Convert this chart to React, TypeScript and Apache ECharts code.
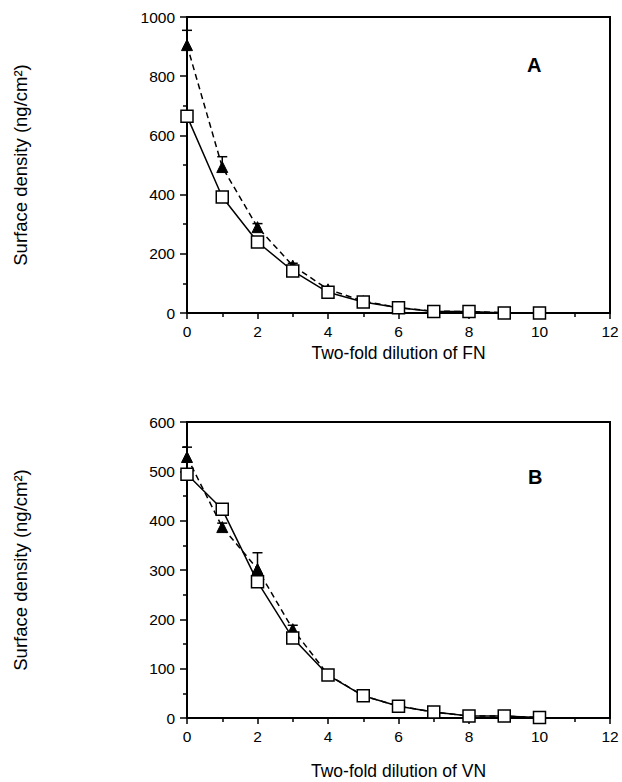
import React, { useEffect, useRef } from "react";
import * as echarts from "echarts";

const dilutions = [0, 1, 2, 3, 4, 5, 6, 7, 8, 9, 10];
// Panel A (FN)
const fnTriangle = [905, 493, 290, 160, 80, 40, 18, 6, 5, 1, 1];
const fnTriangleErr = [50, 35, 12, 8, 6, 4, 3, 2, 2, 1, 1];
const fnSquare = [665, 392, 240, 142, 70, 37, 18, 5, 5, 0, 0];
// Panel B (VN)
const vnTriangle = [529, 387, 302, 180, 88, 45, 24, 12, 4, 4, 1];
const vnTriangleErr = [20, 8, 33, 8, 5, 4, 3, 2, 2, 1, 1];
const vnSquare = [494, 423, 276, 162, 87, 45, 24, 12, 4, 4, 1];

const xTicks = { min: 0, max: 12, interval: 2 };
const panelALabels = { x: "Two-fold dilution of FN", y: "Surface density (ng/cm²)", tag: "A" };
const panelBLabels = { x: "Two-fold dilution of VN", y: "Surface density (ng/cm²)", tag: "B" };

const FONT = "'Liberation Sans', Arial, sans-serif";
const TICK_SIZE = 15.5;
const XTITLE_SIZE = 17.5;
const YTITLE_SIZE = 18.5;

function pairs(ys: number[]) {
  return dilutions.map((x, i) => [x, ys[i]]);
}

function errData(ys: number[], errs: number[]) {
  return dilutions.map((x, i) => [x, ys[i], ys[i] + errs[i]]);
}

const errRender = (params: any, api: any) => {
  const x = api.value(0);
  const lo = api.coord([x, api.value(1)]);
  const hi = api.coord([x, api.value(2)]);
  const half = 5;
  return {
    type: "group",
    children: [
      { type: "line", shape: { x1: lo[0], y1: lo[1], x2: hi[0], y2: hi[1] }, style: { stroke: "#000", lineWidth: 1.5 } },
      { type: "line", shape: { x1: hi[0] - half, y1: hi[1], x2: hi[0] + half, y2: hi[1] }, style: { stroke: "#000", lineWidth: 1.5 } },
    ],
  };
};

function xAxis(gridIndex: number, name: string, nameGap: number) {
  return {
    type: "value",
    gridIndex,
    min: xTicks.min,
    max: xTicks.max,
    interval: xTicks.interval,
    name,
    nameLocation: "middle",
    nameGap,
    nameTextStyle: { fontFamily: FONT, fontSize: XTITLE_SIZE, color: "#000" },
    axisLine: { show: true, onZero: false, lineStyle: { color: "#000", width: 2 } },
    axisTick: { show: true, length: 6, inside: false, lineStyle: { color: "#000", width: 1.5 } },
    minorTick: { show: true, splitNumber: 2, length: 4, lineStyle: { color: "#000", width: 1.5 } },
    axisLabel: { fontFamily: FONT, fontSize: TICK_SIZE, color: "#000", margin: 10 },
    splitLine: { show: false },
  };
}

function yAxis(gridIndex: number, max: number, interval: number, name: string) {
  return {
    type: "value",
    gridIndex,
    min: 0,
    max,
    interval,
    name,
    nameLocation: "middle",
    nameGap: 157,
    nameTextStyle: { fontFamily: FONT, fontSize: YTITLE_SIZE, color: "#000" },
    axisLine: { show: true, onZero: false, lineStyle: { color: "#000", width: 2 } },
    axisTick: { show: true, length: 7, inside: false, lineStyle: { color: "#000", width: 1.5 } },
    minorTick: { show: true, splitNumber: 2, length: 4, lineStyle: { color: "#000", width: 1.5 } },
    axisLabel: { fontFamily: FONT, fontSize: TICK_SIZE, color: "#000", margin: 12, formatter: (v: number) => String(v) },
    splitLine: { show: false },
  };
}

function seriesFor(idx: number, tri: number[], triErr: number[], sq: number[]) {
  return [
    {
      type: "custom",
      xAxisIndex: idx,
      yAxisIndex: idx,
      renderItem: errRender,
      data: errData(tri, triErr),
      z: 1,
    },
    {
      type: "line",
      xAxisIndex: idx,
      yAxisIndex: idx,
      data: pairs(tri),
      symbol: "triangle",
      symbolSize: [11, 11],
      itemStyle: { color: "#000", borderColor: "#000" },
      lineStyle: { color: "#000", width: 1.5, type: [6, 4] },
      z: 2,
    },
    {
      type: "line",
      xAxisIndex: idx,
      yAxisIndex: idx,
      data: pairs(sq),
      symbol: "rect",
      symbolSize: 12,
      itemStyle: { color: "#fff", borderColor: "#000", borderWidth: 1.5 },
      lineStyle: { color: "#000", width: 1.5 },
      z: 3,
    },
  ];
}

export default function App() {
  const ref = useRef<HTMLDivElement>(null);
  useEffect(() => {
    if (!ref.current) return;
    const chart = echarts.init(ref.current, undefined, { renderer: "svg" });
    chart.setOption({
      animation: false,
      backgroundColor: "#fff",
      grid: [
        { left: 187, top: 17, width: 423, height: 296, show: true, borderColor: "#000", borderWidth: 2, backgroundColor: "transparent" },
        { left: 187, top: 422, width: 423, height: 296, show: true, borderColor: "#000", borderWidth: 2, backgroundColor: "transparent" },
      ],
      xAxis: [xAxis(0, panelALabels.x, 31), xAxis(1, panelBLabels.x, 44)],
      yAxis: [yAxis(0, 1000, 200, panelALabels.y), yAxis(1, 600, 100, panelBLabels.y)],
      series: [
        ...seriesFor(0, fnTriangle, fnTriangleErr, fnSquare),
        ...seriesFor(1, vnTriangle, vnTriangleErr, vnSquare),
      ],
      graphic: [
        { type: "text", left: 527, top: 55, style: { text: panelALabels.tag, font: `bold 20px ${FONT}`, fill: "#000" } },
        { type: "text", left: 528, top: 467, style: { text: panelBLabels.tag, font: `bold 20px ${FONT}`, fill: "#000" } },
      ],
    });
    return () => chart.dispose();
  }, []);
  return <div ref={ref} style={{ position: "fixed", left: 0, top: 0, width: 622, height: 782 }} />;
}
